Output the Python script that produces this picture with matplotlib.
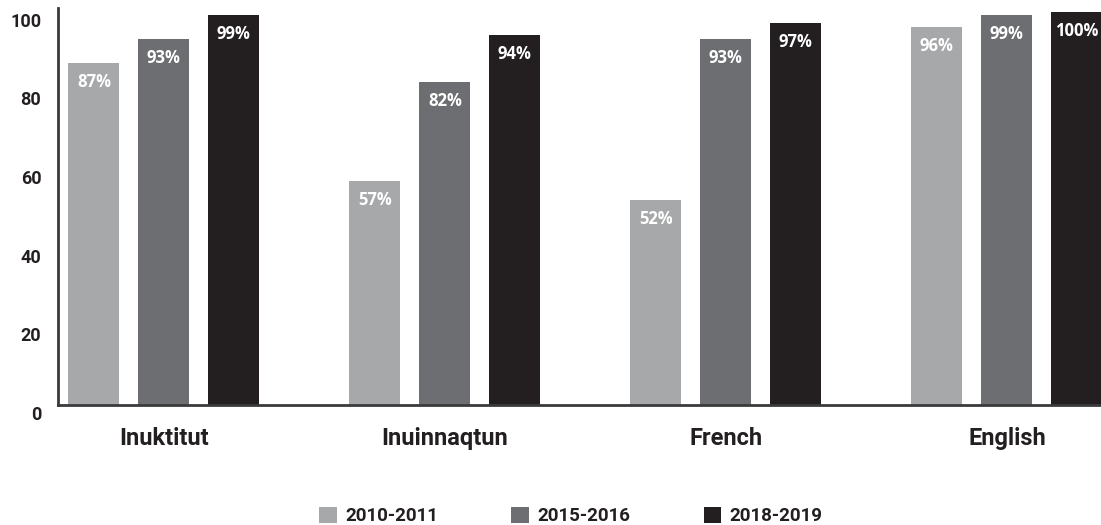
import matplotlib
matplotlib.use("Agg")
import matplotlib.pyplot as plt
import matplotlib.transforms as mtransforms
from matplotlib.patches import Patch
import numpy as np

# Data
languages = ["Inuktitut", "Inuinnaqtun", "French", "English"]
years = ["2010-2011", "2015-2016", "2018-2019"]
pct_2010 = [87, 57, 52, 96]
pct_2015 = [93, 82, 93, 99]
pct_2019 = [99, 94, 97, 100]
y_ticks = [0, 20, 40, 60, 80, 100]

series = [pct_2010, pct_2015, pct_2019]
colors = ["#a7a8aa", "#6d6e71", "#231f20"]
text_color = "#231f20"

plt.rcParams["font.family"] = ["Roboto", "DejaVu Sans"]

fig = plt.figure(figsize=(11.01, 5.25), dpi=100)
ax = fig.add_axes([58 / 1101, 120 / 525, 1043 / 1101, 397.4 / 525])

x = np.arange(len(languages))
offset = 70 / 281
width = 51 / 281

for i, (vals, col) in enumerate(zip(series, colors)):
    xs = x + (i - 1) * offset
    ax.bar(xs, vals, width=width, color=col, zorder=2)
    for xi, v in zip(xs, vals):
        ax.annotate(f"{v}%", (xi, v), xytext=(0, -19), textcoords="offset pixels",
                    ha="center", va="center", color="white", fontsize=12,
                    fontweight="bold", family=["Open Sans", "DejaVu Sans"])

ax.set_xlim(-0.377, -0.377 + 1043 / 281)
ax.set_ylim(0, 101)

ax.set_yticks(y_ticks)
ax.set_yticklabels([str(t) for t in y_ticks], fontsize=13, fontweight="bold",
                   color=text_color)
ax.tick_params(axis="y", length=0, pad=12)
shift = mtransforms.ScaledTranslation(0, -8 / 100, fig.dpi_scale_trans)
for lbl in ax.get_yticklabels():
    lbl.set_transform(lbl.get_transform() + shift)

ax.set_xticks(x)
ax.set_xticklabels(languages, fontsize=17, fontweight="bold", color=text_color)
ax.tick_params(axis="x", length=0, pad=16)

for side in ["top", "right"]:
    ax.spines[side].set_visible(False)
for side in ["left", "bottom"]:
    ax.spines[side].set_linewidth(2)
    ax.spines[side].set_color("#3a3a3c")

handles = [Patch(facecolor=c, edgecolor="none") for c in colors]
leg = fig.legend(handles, years, loc="center", bbox_to_anchor=(571 / 1101, 9 / 525),
                 ncol=3, frameon=False, handlelength=0.95, handleheight=0.95,
                 handletextpad=0.45, columnspacing=3.9,
                 prop={"family": ["Roboto", "DejaVu Sans"], "weight": "bold", "size": 13.5})
for t in leg.get_texts():
    t.set_color(text_color)

fig.savefig("out.png", dpi=100)
